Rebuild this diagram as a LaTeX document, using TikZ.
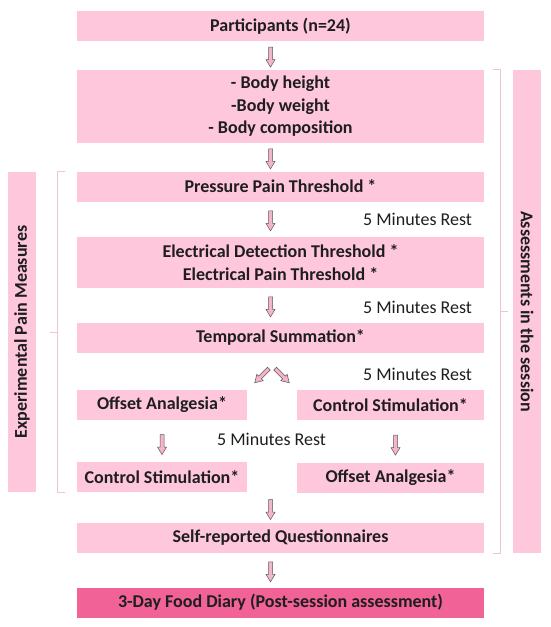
\documentclass[tikz,border=0pt]{standalone}
\usepackage{fontspec}
\setmainfont{Carlito}
\usetikzlibrary{shapes.arrows}

\definecolor{boxpink}{RGB}{255,199,220}
\definecolor{diarypink}{RGB}{241,98,150}
\definecolor{arrowpink}{RGB}{245,180,205}
\definecolor{bracketpink}{RGB}{238,196,212}
\definecolor{inkgray}{RGB}{30,30,30}

\begin{document}
\begin{tikzpicture}[x=1pt, y=-1pt, text=inkgray,
    font=\fontsize{18}{22.5}\selectfont,
    stage/.style={fill=boxpink, minimum width=407pt, minimum height=30pt,
                  inner sep=0pt, align=center,
                  font=\fontsize{18}{22.5}\selectfont\bfseries},
    halfstage/.style={stage, minimum width=170pt},
    sidebar/.style={fill=boxpink, minimum height=28pt, inner sep=0pt,
                    font=\fontsize{18}{22.5}\selectfont\bfseries},
    blockarr/.style={single arrow, draw=black!65, fill=arrowpink,
                     line width=0.5pt, minimum height=20pt, minimum width=8.5pt,
                     single arrow head extend=2.5pt, single arrow tip angle=62,
                     inner sep=1.75pt},
    downarr/.style={blockarr, rotate=-90},
    rest/.style={inner sep=0pt},
    bracket/.style={draw=bracketpink, line width=0.9pt}]

  \useasboundingbox (0,0) rectangle (550,627);

  % ---- the main column of the session
  \node[stage] (part)  at (280.5,26)    {Participants (n=24)};
  \node[stage, minimum height=73pt] (body) at (280.5,106.5)
    {- Body height\\-Body weight\\- Body composition};
  \node[stage] (press) at (280.5,186.5) {Pressure Pain Threshold *};
  \node[stage, minimum height=51pt] (elec) at (280.5,262.5)
    {Electrical Detection Threshold *\\Electrical Pain Threshold *};
  \node[stage] (temp)  at (280.5,337.5) {Temporal Summation*};

  % ---- the two counterbalanced orders
  \node[halfstage] (offL) at (162,405) {Offset Analgesia*};
  \node[halfstage, minimum width=187pt] (ctrlR) at (390.5,405) {Control Stimulation*};
  \node[halfstage] (ctrlL) at (162,477) {Control Stimulation*};
  \node[halfstage, minimum width=187pt] (offR) at (390.5,478) {Offset Analgesia*};

  \node[stage] (self)  at (280.5,538)   {Self-reported Questionnaires};
  \node[stage, fill=diarypink] (food) at (280.5,602.5)
    {3-Day Food Diary (Post-session assessment)};

  % ---- rests between the measures
  \node[rest] (rest1) at (417.5,219) {5 Minutes Rest};
  \node[rest] (rest2) at (417.5,307) {5 Minutes Rest};
  \node[rest] (rest3) at (417.5,374) {5 Minutes Rest};
  \node[rest] (rest4) at (271.5,439) {5 Minutes Rest};

  % ---- hollow arrows
  \path (part.south)  -- node[xshift=-10pt, downarr] (ar1) {} (body.north);
  \path (body.south)  -- node[xshift=-10pt, downarr] (ar2) {} (press.north);
  \path (press.south) -- node[xshift=-10pt, downarr] (ar3) {} (elec.north);
  \path (elec.south)  -- node[xshift=-10pt, downarr] (ar4) {} (temp.north);
  \node[blockarr, rotate=-135] (arL) at (263,374.5) {};
  \node[blockarr, rotate=-45]  (arR) at (281,374.5) {};
  \path (offL.south)  -- node[yshift=-2pt, downarr] (ar5) {} (ctrlL.north);
  \path (ctrlR.south) -- node[xshift=5pt, yshift=-2pt, downarr] (ar6) {} (offR.north);
  \path (offR.south -| part.south) -- node[xshift=-10pt, downarr] (ar7) {} (self.north);
  \path (self.south)  -- node[xshift=-10pt, downarr] (ar8) {} (food.north);

  % ---- the two groupings at the sides
  \node[sidebar, minimum width=320pt, rotate=90] (pain) at (22,332)
    {Experimental Pain Measures};
  \node[sidebar, minimum width=483pt, rotate=-90] (sess) at (527,311.5)
    {Assessments in the session};
  \draw[bracket] ([xshift=-12pt]press.north west) -- ++(-7,0)
    |- ([xshift=-12pt]ctrlL.south west);
  \draw[bracket] (58,332) -- (50,332);
  \draw[bracket] ([xshift=9pt]body.north east) -- ++(7,0)
    |- ([xshift=9pt]self.south east);
  \draw[bracket] (500,311.5) -- (508,311.5);
\end{tikzpicture}
\end{document}
